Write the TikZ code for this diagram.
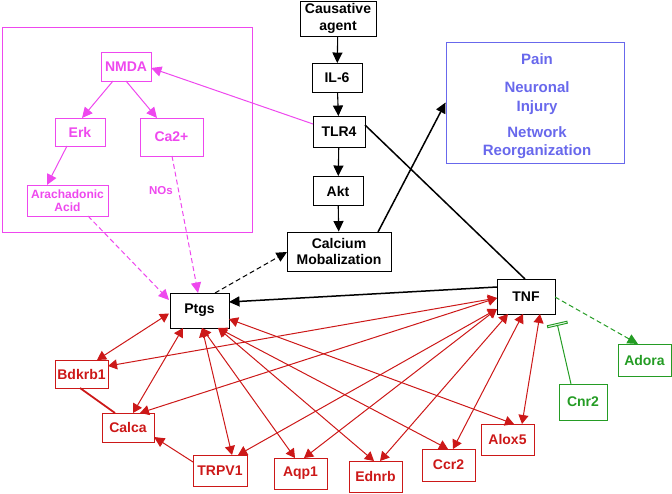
\documentclass[tikz,border=0pt]{standalone}
\usepackage{fontspec}
\setmainfont{Liberation Sans}
\usetikzlibrary{arrows.meta}
\definecolor{pk}{RGB}{238,72,238}
\definecolor{rd}{RGB}{204,24,24}
\definecolor{bl}{RGB}{104,104,236}
\definecolor{gr}{RGB}{36,156,36}
\begin{document}
\begin{tikzpicture}[x=1pt,y=-1pt,
  box/.style={draw, line width=0.9pt, inner sep=0pt, align=center, font=\fontsize{14}{16.8}\selectfont\bfseries},
  blk/.style={box, draw=black, text=black},
  pkb/.style={box, draw=pk, text=pk},
  rdb/.style={box, draw=rd, text=rd},
  grb/.style={box, draw=gr, text=gr},
  bltext/.style={text=bl, align=center, inner sep=0pt, font=\fontsize{15}{18.5}\selectfont\bfseries},
  tipa/.style={-{Triangle[length=10.5pt,width=10pt]}},
  dtip/.style={{Triangle[length=9pt,width=10pt]}-{Triangle[length=9pt,width=10pt]}},
  blkline/.style={draw=black, line width=1.5pt},
  pkline/.style={draw=pk, line width=1pt},
  rdline/.style={draw=rd, line width=1pt},
  dsh/.style={dash pattern=on 5pt off 3pt},
]
\useasboundingbox (0,0) rectangle (672,494);

% black chain
\node[blk, minimum width=76pt, minimum height=35pt] (cause) at (338,18.5) {Causative\\agent};
\node[blk, minimum width=50pt, minimum height=29pt] (il6) at (337,78) {IL-6};
\node[blk, minimum width=52pt, minimum height=31pt] (tlr4) at (339,132) {TLR4};
\node[blk, minimum width=50pt, minimum height=29pt] (akt) at (338,191) {Akt};
\node[blk, minimum width=104pt, minimum height=39pt] (calc) at (339,251.5) {Calcium\\Mobalization};

% outcome box
\node[draw=bl, line width=0.9pt, minimum width=178pt, minimum height=121pt, inner sep=0pt] (outbox) at (535,102.5) {};
\node[bltext] (pain) at (537,59) {Pain};
\node[bltext] (inj) at (537,98) {Neuronal\\Injury};
\node[bltext] (reorg) at (537,142.5) {Network\\Reorganization};

% pink box
\node[draw=pk, line width=0.9pt, minimum width=250pt, minimum height=205pt, inner sep=0pt] (pinkbox) at (127,129.5) {};
\node[pkb, minimum width=50pt, minimum height=29pt] (nmda) at (126,66.5) {NMDA};
\node[pkb, minimum width=50pt, minimum height=28pt] (erk) at (80,132) {Erk};
\node[pkb, minimum width=63pt, minimum height=38pt] (ca) at (171.5,137) {Ca2+};
\node[pkb, minimum width=81pt, minimum height=31pt, font=\fontsize{12}{13.5}\selectfont\bfseries] (arach) at (67.5,200.5) {Arachadonic\\Acid};
\node[text=pk, inner sep=0pt, font=\fontsize{11.5}{13}\selectfont\bfseries] (nos) at (161,191) {NOs};

% central nodes
\node[blk, minimum width=59pt, minimum height=35pt] (ptgs) at (199.5,310.5) {Ptgs};
\node[blk, minimum width=58pt, minimum height=35pt] (tnf) at (526,296.5) {TNF};

% red nodes
\node[rdb, minimum width=53pt, minimum height=28pt] (bdkrb1) at (81.5,374) {Bdkrb1};
\node[rdb, minimum width=52pt, minimum height=29pt] (calca) at (128,427.5) {Calca};
\node[rdb, minimum width=54pt, minimum height=31pt] (trpv1) at (220,470.5) {TRPV1};
\node[rdb, minimum width=53pt, minimum height=31pt] (aqp1) at (300.5,473.5) {Aqp1};
\node[rdb, minimum width=53pt, minimum height=31pt] (ednrb) at (375.5,476.5) {Ednrb};
\node[rdb, minimum width=53pt, minimum height=32pt] (ccr2) at (448.5,465) {Ccr2};
\node[rdb, minimum width=53pt, minimum height=31pt] (alox5) at (507.5,439.5) {Alox5};

% green nodes
\node[grb, minimum width=48pt, minimum height=36pt] (cnr2) at (583,402) {Cnr2};
\node[grb, minimum width=53pt, minimum height=32pt] (adora) at (644.5,360) {Adora};

% black connectors
\draw[blkline, line width=1.1pt, tipa] (cause) -- (il6);
\draw[blkline, line width=1.1pt, tipa] (il6) -- (tlr4);
\draw[blkline, line width=1.1pt, tipa] (tlr4) -- (akt);
\draw[blkline, line width=1.1pt, tipa] (akt) -- (calc);
\draw[blkline] ([shift={(26,-7)}]tlr4.center) -- ([shift={(-1,-17.5)}]tnf.center);
\draw[blkline, tipa] ([shift={(39,-19.5)}]calc.center) -- (outbox.west);
\draw[blkline, tipa] ([shift={(-29,-9.5)}]tnf.center) -- ([shift={(29.5,-8.5)}]ptgs.center);
\draw[draw=black, line width=1pt, dsh, tipa] ([shift={(15.5,-17.5)}]ptgs.center) -- ([shift={(-52,0.5)}]calc.center);

% pink connectors
\draw[pkline, tipa] ([shift={(-26,-8)}]tlr4.center) -- ([shift={(25,1.5)}]nmda.center);
\draw[pkline, tipa] ([shift={(-13,14.5)}]nmda.center) -- ([shift={(2,-14)}]erk.center);
\draw[pkline, tipa] ([shift={(0,14.5)}]nmda.center) -- ([shift={(-14.5,-19)}]ca.center);
\draw[pkline, tipa] ([shift={(-13,14)}]erk.center) -- ([shift={(-20.5,-15.5)}]arach.center);
\draw[pkline, dsh, tipa] ([shift={(20.5,15.5)}]arach.center) -- ([shift={(-30.5,-10.5)}]ptgs.center);
\draw[pkline, dsh, tipa] ([shift={(0.5,19)}]ca.center) -- ([shift={(-1.5,-17.5)}]ptgs.center);

% green connectors
\draw[draw=gr, line width=1pt, dsh, tipa] ([shift={(29,0.5)}]tnf.center) -- ([shift={(-6.5,-16)}]adora.center);
\draw[draw=gr, line width=1pt, -{Rectangle[open,length=3pt,width=21pt]}] ([shift={(-12,-18)}]cnr2.center) -- ([shift={(31,26.5)}]tnf.center);

% red connectors
\draw[rdline, line width=1.8pt] ([shift={(-1.5,14)}]bdkrb1.center) -- ([shift={(-13,-14.5)}]calca.center);
\draw[rdline, tipa] ([shift={(-27,-8.5)}]trpv1.center) -- ([shift={(26,9.5)}]calca.center);

\draw[rdline, dtip] ([shift={(-30.5,3)}]ptgs.center) -- ([shift={(15.5,-14)}]bdkrb1.center);
\draw[rdline, dtip] ([shift={(-16.5,17.5)}]ptgs.center) -- ([shift={(5,-14.5)}]calca.center);
\draw[rdline, dtip] ([shift={(2.5,17.5)}]ptgs.center) -- ([shift={(12,-15.5)}]trpv1.center);
\draw[rdline, dtip] ([shift={(2.5,17.5)}]ptgs.center) -- ([shift={(-5.5,-15.5)}]aqp1.center);
\draw[rdline, dtip] ([shift={(18.5,17.5)}]ptgs.center) -- ([shift={(-1.5,-15.5)}]ednrb.center);
\draw[rdline, dtip] ([shift={(18.5,17.5)}]ptgs.center) -- ([shift={(-0.5,-16)}]ccr2.center);
\draw[rdline, dtip] ([shift={(29.5,8.5)}]ptgs.center) -- ([shift={(6.5,-15.5)}]alox5.center);

\draw[rdline, dtip] ([shift={(-29,1.5)}]tnf.center) -- ([shift={(26.5,-8)}]bdkrb1.center);
\draw[rdline, dtip] ([shift={(-29,1.5)}]tnf.center) -- ([shift={(12,-14.5)}]calca.center);
\draw[rdline, dtip] ([shift={(-29,12.5)}]tnf.center) -- ([shift={(18,-15.5)}]trpv1.center);
\draw[rdline, dtip] ([shift={(-29,12.5)}]tnf.center) -- ([shift={(3.5,-15.5)}]aqp1.center);
\draw[rdline, dtip] ([shift={(-18,17.5)}]tnf.center) -- ([shift={(4.5,-15.5)}]ednrb.center);
\draw[rdline, dtip] ([shift={(-3,17.5)}]tnf.center) -- ([shift={(4.5,-16)}]ccr2.center);
\draw[rdline, dtip] ([shift={(14,17.5)}]tnf.center) -- ([shift={(14.5,-15.5)}]alox5.center);
\end{tikzpicture}
\end{document}
